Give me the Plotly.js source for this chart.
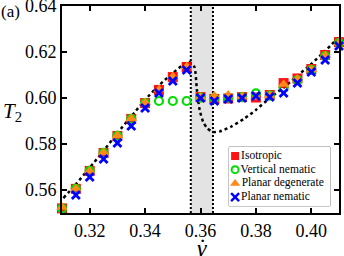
<!DOCTYPE html>
<html>
<head>
<meta charset="utf-8">
<script src="https://cdn.plot.ly/plotly-3.0.1.min.js"></script>
<style>html,body{margin:0;padding:0;background:#fff;}#chart{width:344px;height:256px;}</style>
</head>
<body>
<div id="chart"></div>
<script>
// Shear rate values
var gammaDot = [0.31, 0.315, 0.32, 0.325, 0.33, 0.335, 0.34, 0.345, 0.35, 0.355, 0.36,
                0.365, 0.37, 0.375, 0.38, 0.385, 0.39, 0.395, 0.40, 0.405, 0.41];
var isotropic = [0.552, 0.5605, 0.5683, 0.5761, 0.5835, 0.5909, 0.5978, 0.6035, 0.6091, 0.6135, 0.6004,
                 0.5996, 0.5998, 0.6004, 0.6002, 0.6013, 0.6065, 0.6085, 0.6126, 0.6187, 0.6243];
var verticalNematic = [0.552, 0.5605, 0.5683, 0.5761, 0.5835, 0.5909, 0.5978, 0.5987, 0.5987, 0.5987, 0.6002,
                       0.5998, 0.6002, 0.6004, 0.6020, 0.6010, 0.6043, 0.6078, 0.6122, 0.6182, 0.6240];
var planarDegenerate = [0.5525, 0.5605, 0.5683, 0.5763, 0.5837, 0.5911, 0.5980, 0.6037, 0.6093, 0.6137, 0.6004,
                        0.6009, 0.6013, 0.6006, 0.6004, 0.6011, 0.6060, 0.6083, 0.6124, 0.6185, 0.6240];
var planarNematic = [null, 0.5578, 0.5657, 0.5735, 0.5804, 0.5878, 0.5957, 0.6022, 0.6074, 0.6122, 0.6000,
                     0.5987, 0.5996, 0.6000, 0.6009, 0.6004, 0.6022, 0.6065, 0.6113, 0.6165, 0.6226];
// Dashed theoretical curve
var curveX = [0.3105, 0.315, 0.32, 0.325, 0.33, 0.335, 0.34, 0.345, 0.35, 0.3535, 0.356, 0.3578, 0.3587,
              0.3597, 0.361, 0.3625, 0.3645, 0.367, 0.371, 0.376, 0.38, 0.385, 0.39, 0.395, 0.40, 0.405, 0.41];
var curveY = [0.5565, 0.5625, 0.5697, 0.577, 0.5848, 0.592, 0.5992, 0.6055, 0.6108, 0.6142, 0.6157, 0.6135, 0.6035,
              0.5948, 0.5895, 0.5868, 0.5852, 0.5855, 0.5875, 0.5912, 0.5948, 0.6000, 0.6045, 0.6097, 0.6148, 0.6205, 0.6265];
// Coexistence band
var bandX = [0.3565, 0.3645];
// Legend
var legendLabels = ['Isotropic', 'Vertical nematic', 'Planar degenerate', 'Planar nematic'];
var legendRows = [3, 2, 1, 0];

var xTicks = [0.32, 0.34, 0.36, 0.38, 0.40];
var yTicks = [0.56, 0.58, 0.60, 0.62, 0.64];

var FONT = 'Liberation Serif, Times New Roman, serif';

var styles = [
  {symbol: 'square', size: 10, color: 'rgba(255,0,0,0.92)', line: {width: 0}},
  {symbol: 'circle-open', size: 8, color: '#00dd00', line: {width: 2.2, color: '#00dd00'}},
  {symbol: 'triangle-up', size: 10, color: '#ff8a1a', line: {width: 0}},
  {symbol: 'x-thin-open', size: 8, color: '#0000ff', line: {width: 2.8, color: '#0000ff'}}
];
var series = [isotropic, verticalNematic, planarDegenerate, planarNematic];

var traces = [];
traces.push({
  x: curveX, y: curveY, mode: 'lines', type: 'scatter', showlegend: false,
  line: {color: '#000', width: 2.5, dash: '3px,3px', shape: 'spline', smoothing: 0.6},
  hoverinfo: 'skip'
});
for (var i = 0; i < series.length; i++) {
  traces.push({
    x: gammaDot, y: series[i], mode: 'markers', type: 'scatter', showlegend: false,
    cliponaxis: false, marker: styles[i]
  });
}
// custom legend drawn on a hidden helper axis
var legSizes = [8, 7, 9, 8];
for (var j = 0; j < legendLabels.length; j++) {
  var m = JSON.parse(JSON.stringify(styles[j]));
  m.size = legSizes[j];
  if (j === 1) m.line.width = 2;
  if (j === 3) m.line.width = 2.4;
  traces.push({
    x: [0.6], y: [legendRows[j]], xaxis: 'x2', yaxis: 'y2', mode: 'markers+text', type: 'scatter',
    showlegend: false, cliponaxis: false, marker: m,
    text: [legendLabels[j]], textposition: 'middle right',
    textfont: {family: FONT, size: 11.5, color: '#000'}
  });
}

var axisCommon = {
  showline: true, linecolor: '#000', linewidth: 2, mirror: 'allticks',
  ticks: 'inside', ticklen: 5, tickwidth: 2, tickcolor: '#000',
  showgrid: false, zeroline: false, ticklabeloverflow: 'allow',
  tickfont: {family: FONT, size: 18, color: '#000'}
};

var layout = {
  width: 344, height: 256,
  margin: {l: 62, r: 5, t: 6, b: 43},
  paper_bgcolor: '#fff', plot_bgcolor: '#fff',
  showlegend: false,
  xaxis: Object.assign({}, axisCommon, {range: [0.31, 0.41], tickvals: xTicks, ticktext: xTicks.map(function(v){return v.toFixed(2);})}),
  yaxis: Object.assign({}, axisCommon, {range: [0.55, 0.64], tickvals: yTicks, ticktext: yTicks.map(function(v){return v.toFixed(2);})}),
  xaxis2: {domain: [0.603, 0.968], range: [0, 10], anchor: 'y2', visible: false, fixedrange: true},
  yaxis2: {domain: [0.034, 0.319], range: [-0.65, 3.66], anchor: 'x2', visible: false, fixedrange: true},
  shapes: [
    {type: 'rect', xref: 'x', yref: 'paper', x0: bandX[0], x1: bandX[1], y0: 0, y1: 1,
     fillcolor: '#e3e3e3', line: {width: 0}, layer: 'below'},
    {type: 'line', xref: 'x', yref: 'paper', x0: bandX[0], x1: bandX[0], y0: 0, y1: 1,
     line: {color: '#000', width: 2, dash: '2px,2px'}, layer: 'below'},
    {type: 'line', xref: 'x', yref: 'paper', x0: bandX[1], x1: bandX[1], y0: 0, y1: 1,
     line: {color: '#000', width: 2, dash: '2px,2px'}, layer: 'below'},
    {type: 'rect', xref: 'paper', yref: 'paper', x0: 0.603, x1: 0.968, y0: 0.034, y1: 0.319,
     fillcolor: '#fff', line: {color: '#8a8a8a', width: 1}, layer: 'below'}
  ],
  annotations: [
    {text: '(a)', xref: 'paper', yref: 'paper', x: -0.226, y: 1.03, xanchor: 'left', yanchor: 'top',
     showarrow: false, font: {family: FONT, size: 17, color: '#000'}},
    {text: '<i>T</i><sub>2</sub>', xref: 'paper', yref: 'paper', x: -0.18, y: 0.49, xanchor: 'center', yanchor: 'middle',
     showarrow: false, font: {family: FONT, size: 21, color: '#000'}},
    {text: '<i>\u03B3</i>', xref: 'paper', yref: 'paper', x: 0.505, y: -0.168, xanchor: 'center', yanchor: 'middle',
     showarrow: false, font: {family: FONT, size: 24, color: '#000'}},
    {text: '\u00B7', xref: 'paper', yref: 'paper', x: 0.508, y: -0.131, xanchor: 'center', yanchor: 'middle',
     showarrow: false, font: {family: FONT, size: 22, color: '#000'}}
  ]
};

Plotly.newPlot('chart', traces, layout, {displayModeBar: false, staticPlot: true});
</script>
</body>
</html>
